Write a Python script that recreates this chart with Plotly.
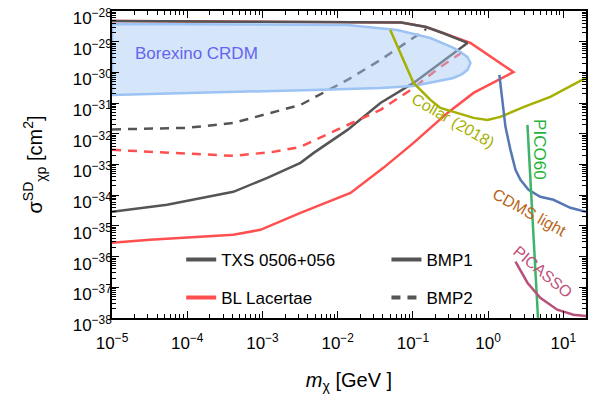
import plotly.graph_objects as go

# ---------------- data ----------------
# TXS 0506+056, BMP1 (solid, closed contour)
txs_bmp1_m = [1e-5, 5.4e-5, 4.1e-4, 1.16e-3, 3.2e-3, 4.8e-3, 1.35e-2, 3.7e-2, 0.102, 0.232, 0.531,
              0.25, 0.15, 0.07, 1e-5]
txs_bmp1_s = [2.88e-35, 4.86e-35, 1.29e-34, 3.68e-34, 1.13e-33, 2.39e-33, 1.34e-32, 1.01e-31, 4.54e-31,
              2.03e-30, 9.1e-30, 1.92e-29, 3.0e-29, 4.2e-29, 4.73e-29]
# BL Lacertae, BMP1 (solid, closed contour)
bl_bmp1_m = [1e-5, 3.2e-5, 4.1e-4, 9.4e-4, 3.2e-3, 1.48e-2, 4.05e-2, 0.102, 0.288, 0.64, 2.17,
             0.582, 0.25, 0.15, 0.07, 1e-5]
bl_bmp1_s = [2.82e-36, 3.53e-36, 5.14e-36, 7.46e-36, 2.67e-35, 1.19e-34, 7.78e-34, 5.07e-33, 4.8e-32,
             2.15e-31, 1.03e-30, 9.1e-30, 1.92e-29, 3.0e-29, 4.2e-29, 4.73e-29]
# TXS 0506+056, BMP2 (dashed)
txs_bmp2_m = [1e-5, 1e-4, 4.1e-4, 1.2e-3, 3.2e-3, 1.35e-2, 3.7e-2, 0.126, 0.15]
txs_bmp2_s = [1.39e-32, 1.56e-32, 2.26e-32, 4.45e-32, 8.73e-32, 5.69e-31, 2.54e-30, 1.92e-29, 2.6e-29]
# BL Lacertae, BMP2 (dashed)
bl_bmp2_m = [1e-5, 1e-4, 4.1e-4, 1.4e-3, 3.2e-3, 8.0e-3, 3.7e-2, 0.102, 0.232, 0.46]
bl_bmp2_s = [3.0e-33, 2.22e-33, 1.91e-33, 2.58e-33, 3.75e-33, 1.07e-32, 6.0e-32, 3.12e-31, 1.51e-30, 4.63e-30]
# Borexino CRDM region (closed)
borex_m = [1e-5, 1.35e-2, 6.2e-2, 0.171, 0.346, 0.45, 0.531, 0.582, 0.531, 0.45, 0.346, 0.171, 0.102,
           3.7e-2, 4.8e-3, 1e-5, 1e-5]
borex_s = [3.78e-29, 3.5e-29, 2.41e-29, 1.32e-29, 6.25e-30, 4.3e-30, 3.18e-30, 2.03e-30, 1.2e-30, 8.8e-31,
           6.6e-31, 4.54e-31, 3.62e-31, 3.12e-31, 2.69e-31, 1.85e-31, 3.78e-29]
# Collar (2018)
collar_m = [5.0e-2, 6.8e-2, 0.102, 0.171, 0.232, 0.64, 0.98, 1.45, 3.0, 6.7, 20]
collar_s = [2.41e-29, 4.3e-30, 4.54e-31, 1.27e-31, 7.0e-32, 3.3e-32, 2.84e-32, 3.56e-32, 7.5e-32, 1.59e-31, 6.6e-31]
# CDMS light
cdms_m = [1.41, 1.55, 1.70, 1.98, 2.31, 2.69, 3.44, 4.93, 7.38, 12.4, 20]
cdms_s = [8.26e-31, 1.01e-31, 1.68e-32, 3.0e-33, 6.7e-34, 3.16e-34, 1.5e-34, 8.85e-35, 7.08e-35, 3.89e-35, 2.88e-35]
# PICO60
pico_m = [3.33, 4.6]
pico_s = [1.95e-32, 1e-38]
# PICASSO
picasso_m = [2.31, 3.33, 4.93, 8.3, 13.6, 20]
picasso_s = [6.8e-37, 1.41e-37, 4.58e-38, 1.86e-38, 1.28e-38, 1.15e-38]

x_tickvals = [1e-5, 1e-4, 1e-3, 1e-2, 1e-1, 1e0, 1e1]
x_ticktext = ["10<sup>\u22125</sup>", "10<sup>\u22124</sup>", "10<sup>\u22123</sup>", "10<sup>\u22122</sup>",
              "10<sup>\u22121</sup>", "10<sup>0</sup>", "10<sup>1</sup>"]
y_tickvals = [10.0 ** (-e) for e in range(38, 27, -1)]
y_ticktext = ["10<sup>\u2212%d</sup>" % e for e in range(38, 27, -1)]

# ---------------- styles ----------------
GRAY = "#555555"
RED = "#ff4f4f"
FONT = "Liberation Sans, Arial, Helvetica, sans-serif"

fig = go.Figure()

fig.add_trace(go.Scatter(x=bl_bmp1_m, y=bl_bmp1_s, mode="lines", line=dict(color=RED, width=2.5),
                         showlegend=False, hoverinfo="skip"))
fig.add_trace(go.Scatter(x=txs_bmp1_m, y=txs_bmp1_s, mode="lines", line=dict(color=GRAY, width=2.5),
                         showlegend=False, hoverinfo="skip"))
fig.add_trace(go.Scatter(x=bl_bmp2_m, y=bl_bmp2_s, mode="lines",
                         line=dict(color=RED, width=2.5, dash="9px,7px"),
                         showlegend=False, hoverinfo="skip"))
fig.add_trace(go.Scatter(x=txs_bmp2_m, y=txs_bmp2_s, mode="lines",
                         line=dict(color=GRAY, width=2.5, dash="9px,7px"),
                         showlegend=False, hoverinfo="skip"))
fig.add_trace(go.Scatter(x=borex_m, y=borex_s, mode="lines", fill="toself",
                         fillcolor="rgba(165,200,245,0.45)",
                         line=dict(color="#9cc3f4", width=2.5),
                         showlegend=False, hoverinfo="skip"))
fig.add_trace(go.Scatter(x=collar_m, y=collar_s, mode="lines", line=dict(color="#a5b000", width=2.5),
                         showlegend=False, hoverinfo="skip"))
fig.add_trace(go.Scatter(x=cdms_m, y=cdms_s, mode="lines", line=dict(color="#5577b4", width=2.5),
                         showlegend=False, hoverinfo="skip"))
fig.add_trace(go.Scatter(x=pico_m, y=pico_s, mode="lines", line=dict(color="#3cb56a", width=2.5),
                         showlegend=False, hoverinfo="skip"))
fig.add_trace(go.Scatter(x=picasso_m, y=picasso_s, mode="lines", line=dict(color="#b9507c", width=2.5),
                         showlegend=False, hoverinfo="skip"))

# legend entries
fig.add_trace(go.Scatter(x=[None], y=[None], mode="lines", name="TXS 0506+056",
                         line=dict(color=GRAY, width=4), legend="legend", legendgroup="a"))
fig.add_trace(go.Scatter(x=[None], y=[None], mode="lines", name="BL Lacertae",
                         line=dict(color=RED, width=4), legend="legend", legendgroup="b"))
fig.add_trace(go.Scatter(x=[None], y=[None], mode="lines", name="BMP1",
                         line=dict(color=GRAY, width=4), legend="legend2", legendgroup="c"))
fig.add_trace(go.Scatter(x=[None], y=[None], mode="lines", name="BMP2",
                         line=dict(color=GRAY, width=4, dash="9px,7px"), legend="legend2", legendgroup="d"))

annots = [
    dict(text="Borexino CRDM", x=-3.88, y=-29.4, color="#6464ee", angle=0, size=17),
    dict(text="Collar (2018)", x=-0.47, y=-31.56, color="#a5b000", angle=30, size=16),
    dict(text="PICO60", x=0.69, y=-32.5, color="#1fb43a", angle=90, size=17),
    dict(text="CDMS light", x=0.55, y=-34.55, color="#b8651b", angle=29, size=16),
    dict(text="PICASSO", x=0.72, y=-36.5, color="#c0507a", angle=40, size=16),
]
for a in annots:
    fig.add_annotation(x=a["x"], y=a["y"], xref="x", yref="y", text=a["text"], showarrow=False,
                       textangle=a["angle"], font=dict(color=a["color"], size=a["size"], family=FONT))

axis_common = dict(type="log", showline=True, linecolor="black", linewidth=1.5, mirror="allticks",
                   ticks="inside", ticklen=7, tickwidth=1.2, tickcolor="black", showgrid=False,
                   zeroline=False, automargin=False, ticklabeloverflow="allow",
                   tickfont=dict(size=17, color="black", family=FONT),
                   minor=dict(ticks="inside", ticklen=4, tickwidth=1, tickcolor="black", dtick="D1",
                              showgrid=False))

fig.update_xaxes(range=[-5.0002, 1.301], tickvals=x_tickvals, ticktext=x_ticktext, ticklabelstandoff=9,
                 title=dict(text="<i>m</i><sub>\u03c7</sub> [GeV ]", font=dict(size=20, family=FONT, color="black"),
                            standoff=21),
                 **axis_common)
fig.update_yaxes(range=[-38.0002, -27.9998], tickvals=y_tickvals, ticktext=y_ticktext,
                 ticklabelstandoff=-5, ticklabelshift=7,
                 title=dict(text="\u03c3<sup>SD</sup><sub>\u03c7p</sub> [cm<sup>2</sup>]",
                            font=dict(size=20, family=FONT, color="black"), standoff=25),
                 **axis_common)

# the page body has an 8px margin, so the figure is offset by 8px
fig.update_layout(
    width=596, height=394,
    margin=dict(l=104, r=18, t=3, b=84),
    paper_bgcolor="white", plot_bgcolor="white",
    font=dict(family=FONT, color="black"),
    legend=dict(x=0.146, y=0.248, xanchor="left", yanchor="top", bgcolor="rgba(0,0,0,0)",
                font=dict(size=17, family=FONT, color="black"), tracegroupgap=13, traceorder="grouped"),
    legend2=dict(x=0.579, y=0.248, xanchor="left", yanchor="top", bgcolor="rgba(0,0,0,0)",
                 font=dict(size=17, family=FONT, color="black"), tracegroupgap=13, traceorder="grouped"),
)

fig.write_html("out.html")
